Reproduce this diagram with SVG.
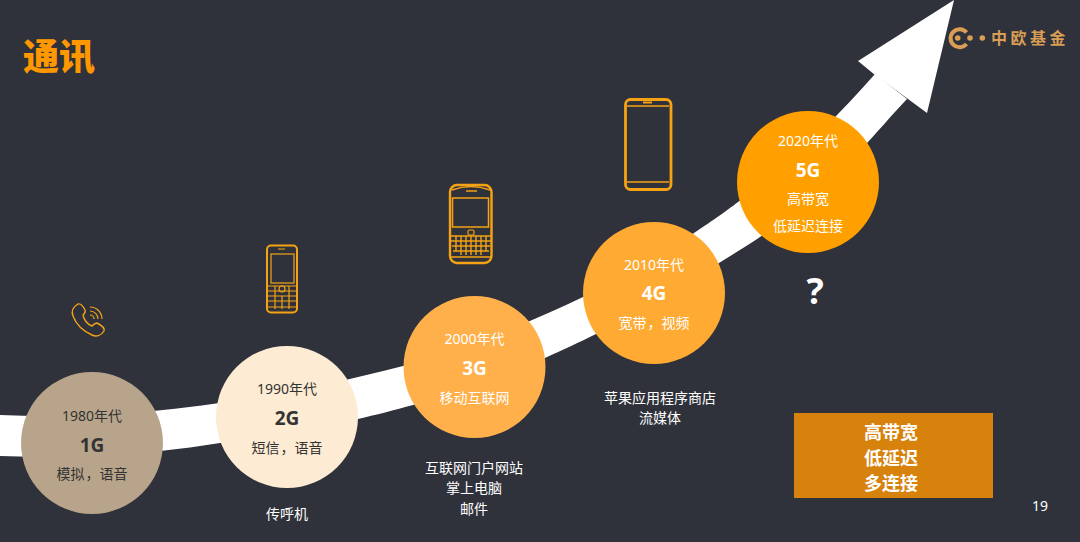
<svg xmlns="http://www.w3.org/2000/svg" width="1080" height="542" viewBox="0 0 1080 542">
<style>
text{font-family:"Noto Sans","Noto Sans CJK SC",sans-serif;text-anchor:middle}
.cj{font-family:"Noto Sans CJK SC",sans-serif}
.w{fill:#fff}.d{fill:#333}
.y{font-size:14px}.g{font-size:19px;font-weight:700}.l{font-size:14px}.n{font-size:14px;fill:#fff}
.b{font-size:18px;font-weight:700;fill:#fff}
.ic{fill:none;stroke:#f5a315;stroke-width:2}
.ic2{fill:none;stroke:#f5a315;stroke-width:2.8}
.ic3{fill:none;stroke:#f5a315;stroke-width:1.2}
</style>
<rect width="1080" height="542" fill="#2f323b"/>
<g id="connectors">
<path d="M0 415 C120 421 260 403 403 366 C470 348 530 322 583 297 C620 280 660 256 694 233 C715 219 725 212 738 202 C790 165 837 117 875 74 L907 99 C890 117 880 129 868 142 C835 175 800 208 760 237 C745 247 732 255 719 263 C680 288 640 312 596 334 C580 342 560 351 545 358 C500 378 455 393 413 405 C395 410 375 415 358 419 C310 430 265 438 220 443 C200 446 180 449 160 451 C105 456 50 458 0 456 Z" fill="#fff"/>
<path d="M954 0 L858 61 L875 75 L908 99 L927 113 Z" fill="#fff"/>
</g>
<text x="59" y="70" class="cj" style="font-size:36px;font-weight:900;fill:#ff9800">通讯</text>
<g id="logo">
<path d="M966.500 32.500 A9 9 0 1 0 966.500 44" fill="none" stroke="#d99d55" stroke-width="4"/>
<circle cx="957.700" cy="38" r="2.800" fill="#d99d55"/><circle cx="970" cy="38" r="2.800" fill="#d99d55"/><circle cx="982.300" cy="38" r="2.800" fill="#d99d55"/>
<text x="1030" y="44" class="cj" style="font-size:16px;font-weight:700;letter-spacing:3.500px;fill:#d99d55">中欧基金</text>
</g>
<g id="icon-phone">
<path class="ic3" style="stroke-width:1.400" d="M78 304 C73 307 71 311 73 316 C76 324 83 331 92 335 C96 337 101 336 104 331 C105 328 103 326 97 323 C95 323 93 325 92 326 C87 324 84 320 83 315 C84 314 86 312 85 310 C83 306 81 303 78 304 Z"/>
<path class="ic3" d="M90 315 A4 4 0 0 1 94 319 M90 311 A8 8 0 0 1 98 319 M90 307 A12 12 0 0 1 102 319"/>
</g>
<g id="icon-2g">
<rect class="ic" x="267" y="245.500" width="30" height="67" rx="4"/>
<rect class="ic3" x="271" y="254" width="23" height="29"/>
<path class="ic3" d="M278 249h7M268 286h28M268 291h28M268 296h28M268 301h28M268 307h28M275 286v23M289 286v23M282 296v13"/>
<circle class="ic3" cx="282" cy="289" r="3"/>
</g>
<g id="icon-3g">
<rect class="ic" style="stroke-width:2.400" x="450" y="185" width="41.500" height="78" rx="7"/>
<rect class="ic3" style="stroke-width:1.500" x="452.500" y="198" width="36" height="29"/>
<path class="ic3" style="stroke-width:1.400" d="M452 190 Q471 183 490 190M466 191h11M451 236h40M451 241h40M452 246h38M453 251h36M451 257h40M456 236v15M461 236v19M466 236v19M471 236v19M476 236v19M481 236v19M486 236v15"/>
<rect class="ic3" x="468" y="230" width="6" height="5" rx="1.500"/>
</g>
<g id="icon-4g">
<rect class="ic2" x="625.500" y="99.500" width="45.500" height="90" rx="5"/>
<path class="ic3" style="stroke-width:1.400" d="M627 106h42M627 182h42"/>
<path d="M643 102.500h9" stroke="#f5a315" stroke-width="2"/>
</g>
<g id="node-1g"><circle cx="92" cy="443" r="71" fill="#b8a48a"/>
<text x="92" y="421" class="y d">1980年代</text><text x="92" y="452" class="g d">1G</text><text x="92" y="479" class="l d">模拟<tspan dx="1">，</tspan>语音</text></g>
<g id="node-2g"><circle cx="287" cy="417" r="71" fill="#fdebd3"/>
<text x="287" y="394" class="y d">1990年代</text><text x="287" y="425" class="g d">2G</text><text x="287" y="453" class="l d">短信<tspan dx="1">，</tspan>语音</text></g>
<g id="node-3g"><circle cx="474.500" cy="367" r="71" fill="#ffb04a"/>
<text x="474.500" y="344" class="y w">2000年代</text><text x="474.500" y="375" class="g w">3G</text><text x="474.500" y="403" class="n">移动互联网</text></g>
<g id="node-4g"><circle cx="654" cy="293" r="71" fill="#ffab33"/>
<text x="654" y="270" class="y w">2010年代</text><text x="654" y="300" class="g w">4G</text><text x="654" y="328" class="n">宽带<tspan dx="1">，</tspan>视频</text></g>
<g id="node-5g"><circle cx="808" cy="182" r="71" fill="#ffa000"/>
<text x="808" y="146" class="y w">2020年代</text><text x="808" y="177" class="g w">5G</text><text x="808" y="204" class="n">高带宽</text><text x="808" y="231" class="n">低延迟连接</text></g>
<text x="815" y="304" style="font-size:36px;font-weight:700;fill:#fff">?</text>
<text x="287" y="519" class="n">传呼机</text>
<text x="474" y="473" class="n">互联网门户网站</text><text x="474" y="493" class="n">掌上电脑</text><text x="474" y="514" class="n">邮件</text>
<text x="660" y="403" class="n">苹果应用程序商店</text><text x="660" y="423" class="n">流媒体</text>
<g id="box"><rect x="794" y="413" width="199" height="85" fill="#d8820e"/>
<text x="891" y="439" class="b">高带宽</text><text x="891" y="465" class="b">低延迟</text><text x="891" y="490" class="b">多连接</text></g>
<text x="1040" y="511" style="font-size:14px;fill:#fff">19</text>
</svg>
